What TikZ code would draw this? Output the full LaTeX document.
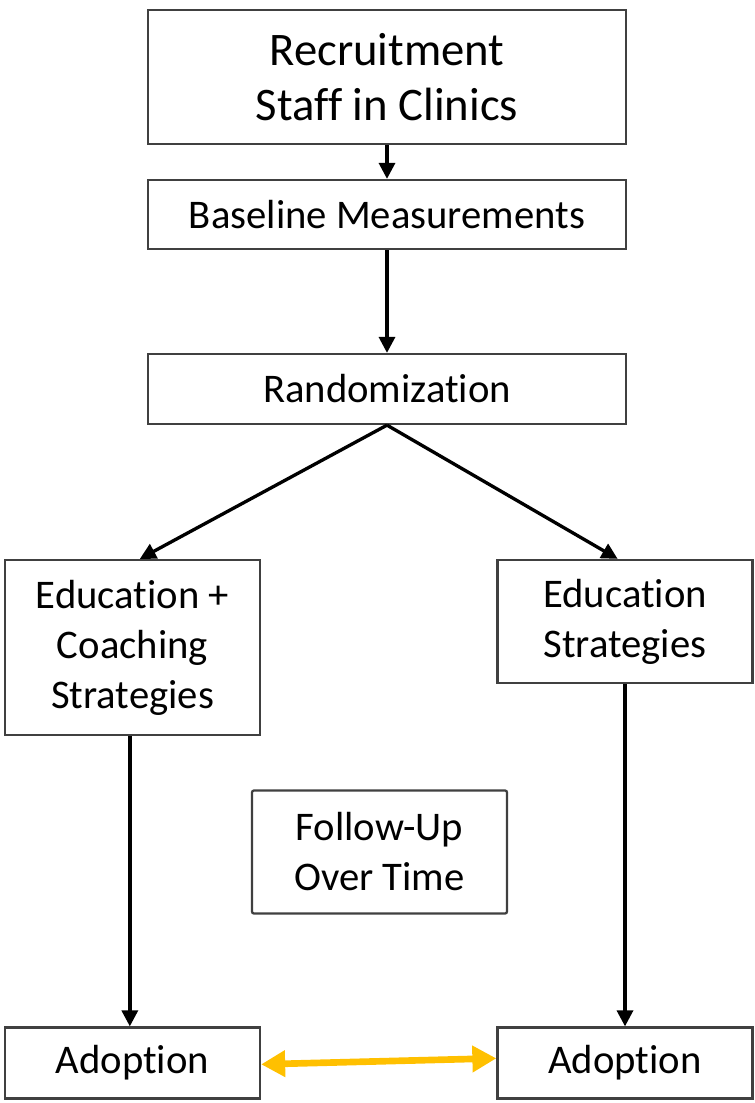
\documentclass[tikz,border=0pt]{standalone}
\usepackage{fontspec}
\setmainfont{Carlito}[Ligatures=NoCommon]
\usetikzlibrary{arrows.meta}
\definecolor{boxline}{HTML}{404040}
\definecolor{linkgold}{HTML}{FFC000}
\begin{document}
\begin{tikzpicture}[x=0.75pt,y=-0.75pt,
  box/.style={draw=boxline,line width=1.7pt,fill=white,inner sep=0pt,
    align=center,font=\fontsize{30.5}{37.5}\selectfont},
  flow/.style={draw=black,line width=2.5pt,-{Triangle[length=12pt,width=12pt]}},
  link/.style={draw=linkgold,line width=5pt,
    {Triangle[length=18pt,width=19pt]}-{Triangle[length=18pt,width=19pt]}}]
  \useasboundingbox (0,0) rectangle (755,1103);
  % boxes
  \node[box,minimum width=478*0.75pt,minimum height=134*0.75pt,
    font=\fontsize{35}{41.5}\selectfont] (rec) at (387,77)
    {Recruitment\\Staff in Clinics};
  \node[box,minimum width=478*0.75pt,minimum height=69*0.75pt] (base) at (387,214.5)
    {Baseline Measurements};
  \node[box,minimum width=478*0.75pt,minimum height=70*0.75pt] (rand) at (387,389)
    {Randomization};
  \node[box,minimum width=255*0.75pt,minimum height=175*0.75pt] (edc) at (132.5,647.5)
    {Education +\\Coaching\\Strategies};
  \node[box,minimum width=255*0.75pt,minimum height=123*0.75pt] (eds) at (625,621.5)
    {Education\\Strategies};
  \node[box,rounded corners=1.5pt,minimum width=255*0.75pt,minimum height=123*0.75pt] (fu) at (379.5,852)
    {Follow-Up\\Over Time};
  \node[box,minimum width=255*0.75pt,minimum height=71*0.75pt] (adl) at (132.5,1063)
    {Adoption};
  \node[box,minimum width=255*0.75pt,minimum height=71*0.75pt] (adr) at (625,1063)
    {Adoption};
  % connectors
  \draw[flow] (rec.south) -- (base.north);
  \draw[flow] (base.south) -- (rand.north);
  \draw[flow] (rand.south) -- ([xshift=5.5pt]edc.north);
  \draw[flow] (rand.south) -- ([xshift=-5.5pt]eds.north);
  \draw[flow] ([xshift=-2pt]edc.south) -- ([xshift=-2pt]adl.north);
  \draw[flow] (eds.south) -- (adr.north);
  \draw[link] ([yshift=-1pt]adl.east) -- ([yshift=3.5pt]adr.west);
\end{tikzpicture}
\end{document}
